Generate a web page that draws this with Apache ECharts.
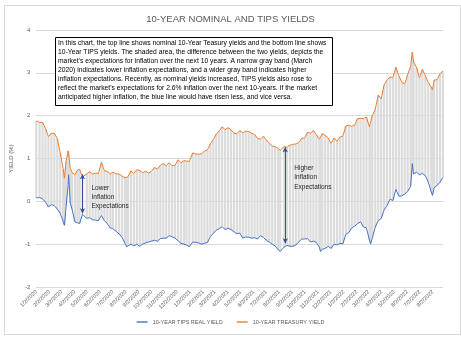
<!DOCTYPE html>
<html><head><meta charset="utf-8">
<script src="https://cdn.jsdelivr.net/npm/echarts@6/dist/echarts.min.js"></script>
<style>html,body{margin:0;padding:0;background:#fff}#c{width:461px;height:338px}</style>
</head><body><div id="c"></div>
<script>
// ---- data ----
const dates = [
'1/2/2020','1/10/2020','1/17/2020','1/24/2020','1/31/2020','2/7/2020','2/14/2020','2/21/2020','2/28/2020',
'3/6/2020','3/9/2020','3/13/2020','3/18/2020','3/19/2020','3/23/2020','3/27/2020','4/3/2020','4/9/2020','4/14/2020','4/21/2020',
'5/1/2020','5/8/2020','5/15/2020','5/22/2020','5/29/2020','6/5/2020','6/12/2020','6/19/2020','6/26/2020',
'7/2/2020','7/10/2020','7/17/2020','7/24/2020','7/31/2020','8/4/2020','8/7/2020','8/14/2020','8/21/2020','8/28/2020',
'9/4/2020','9/11/2020','9/18/2020','9/25/2020','10/2/2020','10/9/2020','10/16/2020','10/23/2020','10/30/2020',
'11/6/2020','11/13/2020','11/20/2020','11/27/2020','12/4/2020','12/11/2020','12/18/2020','12/24/2020','12/31/2020',
'1/8/2021','1/15/2021','1/22/2021','1/29/2021','2/5/2021','2/12/2021','2/19/2021','2/26/2021',
'3/5/2021','3/12/2021','3/19/2021','3/26/2021','4/2/2021','4/9/2021','4/16/2021','4/23/2021','4/30/2021',
'5/7/2021','5/14/2021','5/21/2021','5/28/2021','6/4/2021','6/11/2021','6/18/2021','6/25/2021',
'7/2/2021','7/9/2021','7/16/2021','7/23/2021','7/30/2021','8/4/2021','8/13/2021','8/20/2021','8/27/2021',
'9/3/2021','9/10/2021','9/17/2021','9/24/2021','10/1/2021','10/8/2021','10/15/2021','10/22/2021','10/29/2021',
'11/5/2021','11/8/2021','11/12/2021','11/19/2021','11/26/2021','12/3/2021','12/10/2021','12/17/2021','12/24/2021','12/31/2021',
'1/7/2022','1/14/2022','1/21/2022','1/28/2022','2/4/2022','2/11/2022','2/18/2022','2/25/2022',
'3/4/2022','3/7/2022','3/11/2022','3/18/2022','3/25/2022','4/1/2022','4/8/2022','4/15/2022','4/22/2022','4/29/2022',
'5/6/2022','5/13/2022','5/20/2022','5/27/2022','6/3/2022','6/10/2022','6/14/2022','6/17/2022','6/24/2022',
'7/1/2022','7/8/2022','7/15/2022','7/22/2022','7/29/2022','8/1/2022','8/5/2022','8/12/2022','8/19/2022','8/26/2022'
];
const nominal = [
1.88,1.84,1.84,1.70,1.51,1.59,1.59,1.47,1.13,
0.76,0.54,0.94,1.18,1.12,0.76,0.68,0.62,0.73,0.75,0.57,
0.64,0.69,0.64,0.66,0.65,0.91,0.71,0.70,0.64,
0.68,0.64,0.64,0.59,0.55,0.52,0.57,0.71,0.65,0.74,
0.72,0.67,0.70,0.66,0.70,0.79,0.75,0.84,0.88,
0.83,0.90,0.83,0.84,0.97,0.90,0.95,0.94,0.93,
1.13,1.11,1.10,1.11,1.17,1.20,1.34,1.44,
1.57,1.64,1.74,1.67,1.72,1.67,1.59,1.58,1.65,
1.60,1.64,1.63,1.59,1.56,1.47,1.45,1.52,
1.43,1.36,1.29,1.28,1.24,1.19,1.28,1.26,1.31,
1.33,1.34,1.37,1.47,1.48,1.61,1.59,1.65,1.55,
1.45,1.48,1.58,1.54,1.48,1.35,1.48,1.40,1.50,1.52,
1.76,1.78,1.75,1.78,1.93,1.94,1.93,1.97,
1.74,1.78,2.00,2.15,2.48,2.39,2.72,2.83,2.90,2.89,
3.13,2.93,2.78,2.74,2.96,3.15,3.48,3.25,3.13,
2.88,3.08,2.93,2.77,2.67,2.60,2.83,2.84,2.98,3.04
];
const tips = [
0.08,0.09,0.06,-0.02,-0.13,-0.08,-0.10,-0.18,-0.28,
-0.47,-0.56,-0.12,0.40,0.62,-0.05,-0.18,-0.48,-0.50,-0.52,-0.30,
-0.40,-0.38,-0.43,-0.44,-0.45,-0.33,-0.45,-0.52,-0.62,
-0.64,-0.70,-0.76,-0.84,-0.98,-1.06,-1.03,-1.00,-1.04,-1.00,
-1.05,-1.00,-0.97,-0.95,-0.93,-0.91,-0.93,-0.87,-0.86,
-0.86,-0.80,-0.83,-0.86,-0.92,-0.98,-1.00,-1.02,-1.06,
-0.95,-0.96,-0.97,-1.00,-0.98,-0.96,-0.82,-0.75,
-0.67,-0.64,-0.59,-0.66,-0.63,-0.66,-0.71,-0.76,-0.74,
-0.86,-0.83,-0.84,-0.86,-0.85,-0.88,-0.80,-0.84,
-0.91,-0.95,-1.00,-1.04,-1.13,-1.17,-1.07,-1.03,-1.05,
-1.05,-1.02,-0.95,-0.88,-0.88,-0.87,-0.95,-0.93,-0.96,
-1.07,-1.17,-1.12,-1.10,-1.05,-1.10,-1.00,-1.02,-0.98,-0.99,
-0.77,-0.73,-0.62,-0.58,-0.52,-0.48,-0.60,-0.62,
-0.90,-0.99,-0.85,-0.60,-0.45,-0.40,-0.20,-0.10,0.05,0.02,
0.28,0.12,0.13,0.17,0.23,0.35,0.88,0.64,0.68,
0.62,0.65,0.60,0.45,0.22,0.14,0.32,0.37,0.45,0.56
];
const seriesNames = ['10-YEAR TIPS REAL YIELD', '10-YEAR TREASURY YIELD'];
const yTicks = { min: -2, max: 4, step: 1 };
const annotations = [
  { date: '4/21/2020', top: 0.63, bottom: -0.28, textY: 0.33, text: 'Lower\nInflation\nExpectations' },
  { date: '8/16/2021', top: 1.26, bottom: -0.98, textY: 0.79, text: 'Higher\nInflation\nExpectations' }
];
const noteText = [
"In this chart, the top line shows nominal 10-Year Teasury yields and the bottom line shows",
"10-Year TIPS yields. The shaded area, the difference between the two yields, depicts the",
"market's expectations for inflation over the next 10 years. A narrow gray band (March",
"2020) indicates lower inflation expectations, and a wider gray band indicates higher",
"inflation expectations. Recently, as nominal yields increased, TIPS yields also rose to",
"reflect the market's expectations for 2.6% inflation over the next 10-years. If the market",
"anticipated higher inflation, the blue line would have risen less, and vice versa."
];

// ---- calendar-day category axis (so month labels fall on the 2nd) ----
function parseD(s){ const p=s.split('/').map(Number); return Date.UTC(p[2],p[0]-1,p[1]); }
function fmtD(t){ const d=new Date(t); return (d.getUTCMonth()+1)+'/'+d.getUTCDate()+'/'+d.getUTCFullYear(); }
const days = [];
for (let t = parseD(dates[0]); t <= parseD(dates[dates.length-1]); t += 86400000) days.push(fmtD(t));

const FONT = 'Liberation Sans, Arial, sans-serif';
const GREY = '#595959';

const chart = echarts.init(document.getElementById('c'), null, { renderer: 'canvas' });
const option = {
  backgroundColor: '#fff',
  animation: false,
  textStyle: { fontFamily: FONT },
  title: {
    text: '10-YEAR NOMINAL AND TIPS YIELDS', left: 'center', top: 9,
    textStyle: { fontSize: 9.5, fontWeight: 'normal', color: GREY, fontFamily: FONT }
  },
  legend: {
    data: seriesNames, bottom: 8, left: 'center', icon: 'rect', itemWidth: 11, itemHeight: 1.4, itemGap: 14,
    textStyle: { fontSize: 5.5, color: GREY, fontFamily: FONT }
  },
  grid: { left: 33, right: 18, top: 30, bottom: 51 },
  xAxis: {
    type: 'category', data: days, boundaryGap: false,
    axisLine: { show: true, lineStyle: { color: '#d9d9d9' } },
    axisTick: { show: false },
    splitLine: { show: false },
    axisLabel: {
      rotate: 45, fontSize: 5.5, color: GREY, margin: 4,
      interval: (i, v) => v.split('/')[1] === '2'
    }
  },
  yAxis: {
    type: 'value', min: yTicks.min, max: yTicks.max, interval: yTicks.step,
    name: 'YIELD (%)', nameLocation: 'middle', nameGap: 16,
    nameTextStyle: { fontSize: 6, color: GREY },
    axisLine: { show: false }, axisTick: { show: false },
    axisLabel: { fontSize: 6, color: GREY, margin: 6 },
    splitLine: { lineStyle: { color: '#d9d9d9', width: 1 } }
  },
  series: [
    {
      type: 'custom', name: 'spread', silent: true, z: 1,
      encode: { x: 0, y: [1, 2] },
      data: dates.map((d, i) => [d, tips[i], nominal[i]]),
      renderItem: function (params, api) {
        const lo = api.coord([api.value(0), api.value(1)]);
        const hi = api.coord([api.value(0), api.value(2)]);
        const w = 2.2;
        return { type: 'rect', shape: { x: lo[0] - w / 2, y: hi[1], width: w, height: lo[1] - hi[1] },
                 style: { fill: '#dcdcdc' } };
      }
    },
    {
      type: 'line', name: seriesNames[0], z: 3, symbol: 'none',
      data: dates.map((d, i) => [d, tips[i]]),
      lineStyle: { color: '#4472C4', width: 1 }, itemStyle: { color: '#4472C4' },
      markLine: {
        silent: true, symbol: ['arrow', 'arrow'], symbolSize: [4, 5],
        lineStyle: { color: '#2F4F8F', width: 1, type: 'solid' }, label: { show: false },
        data: annotations.map(a => [{ coord: [a.date, a.top] }, { coord: [a.date, a.bottom] }])
      }
    },
    {
      type: 'line', name: seriesNames[1], z: 3, symbol: 'none',
      data: dates.map((d, i) => [d, nominal[i]]),
      lineStyle: { color: '#ED7D31', width: 1 }, itemStyle: { color: '#ED7D31' }
    }
  ]
};
chart.setOption(option);

// annotation texts + note box
const g = [
  { type: 'rect', left: 2, top: 3, shape: { width: 456, height: 329 }, style: { fill: 'none', stroke: '#d9d9d9', lineWidth: 1 }, silent: true },
  { type: 'rect', left: 55, top: 37, shape: { width: 277, height: 68 }, style: { fill: '#fff', stroke: '#000', lineWidth: 1 }, z: 10 },
  { type: 'text', left: 58, top: 39, z: 11,
    style: { text: noteText.join('\n'), fontSize: 6.75, lineHeight: 9, fill: '#000', fontFamily: FONT } }
];
annotations.forEach(a => {
  const p = chart.convertToPixel({ gridIndex: 0 }, [a.date, a.textY]);
  g.push({ type: 'text', x: p[0] + 9, y: p[1] - 4, z: 11,
    style: { text: a.text, fontSize: 6.5, lineHeight: 9.3, fill: '#262626', fontFamily: FONT } });
});
chart.setOption({ graphic: g });
</script></body></html>
